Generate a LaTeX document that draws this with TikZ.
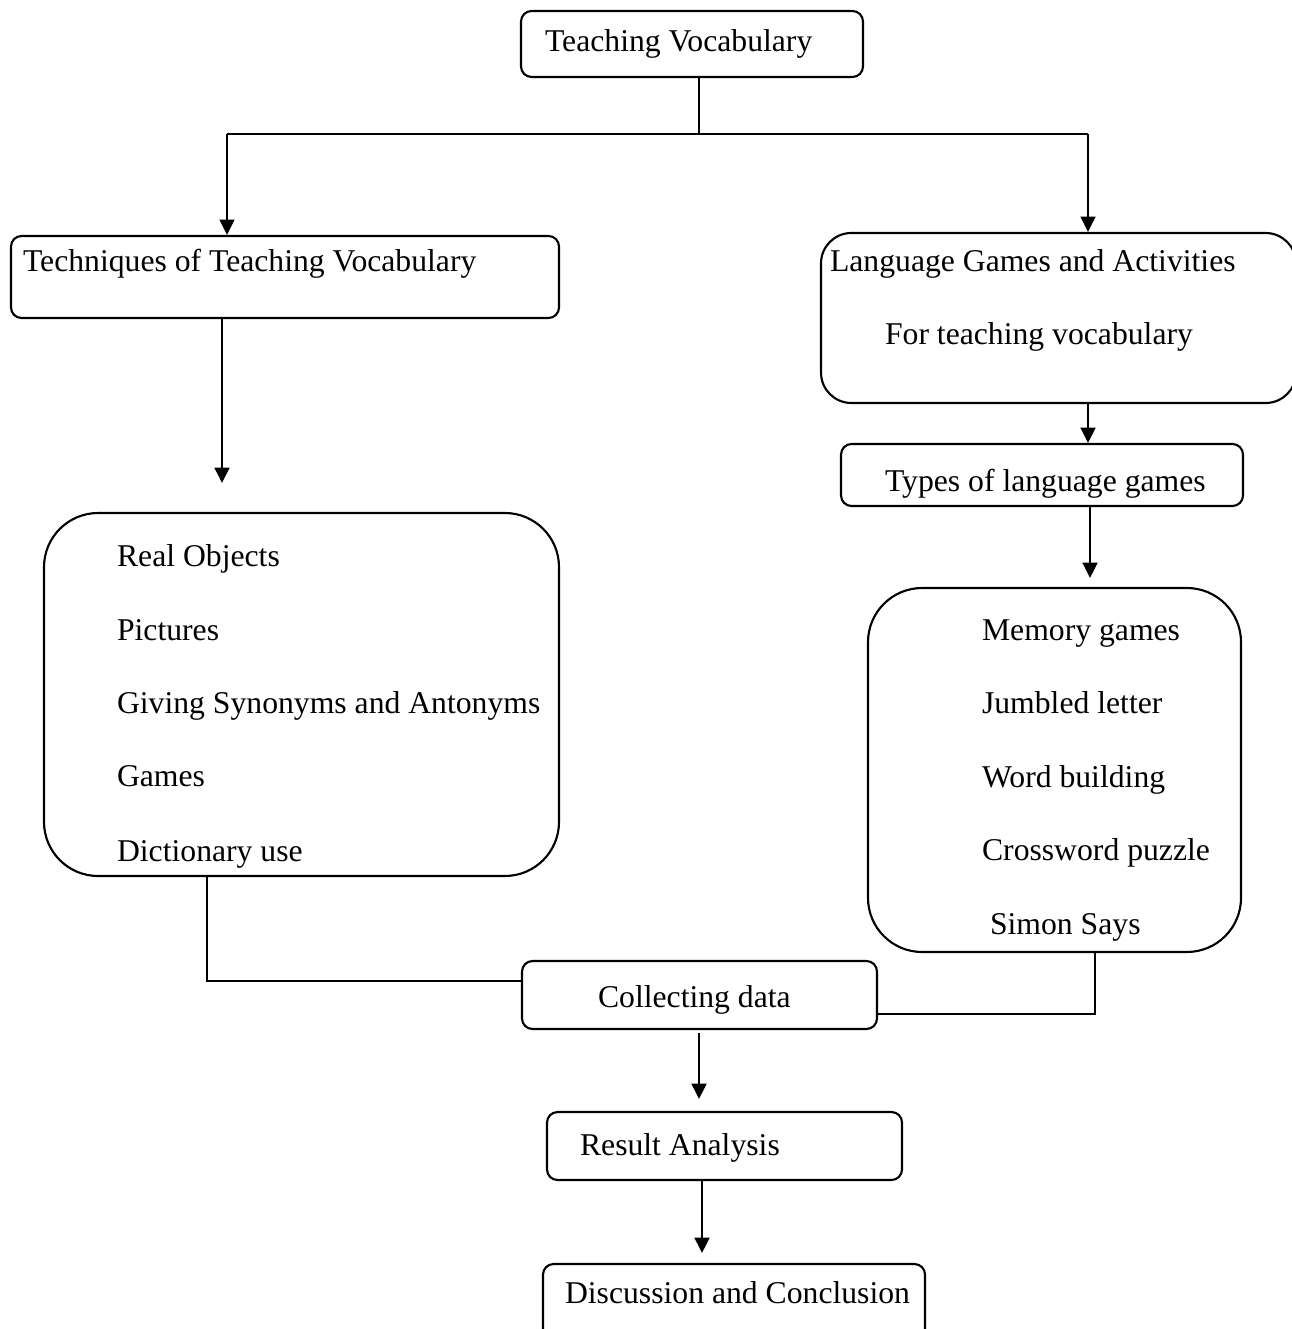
\documentclass[tikz,border=0pt]{standalone}
\usepackage{fontspec}
\setmainfont{Liberation Serif}
\usetikzlibrary{arrows.meta,fit}

\begin{document}
\begin{tikzpicture}[x=0.3788pt, y=-0.3788pt, line width=0.8pt,
		box/.style={draw, inner sep=0pt, rounded corners=4pt},
		roundbox/.style={box, rounded corners=#1},
		txt/.style={anchor=base west, inner sep=0pt, font=\fontsize{12pt}{14pt}\selectfont},
		arr/.style={-{Triangle[length=5.8pt,width=5.6pt]}}]
			\useasboundingbox (0,0) rectangle (1291,1329);
			
			% boxes
			\node[box, fit={(521,11) (863,77)}] (teach) {};
			\node[box, fit={(11,236) (559,318)}] (tech) {};
			\node[roundbox=11.5pt, fit={(821,233) (1296,403)}] (lang) {};
			\node[box, fit={(841,444) (1243,506)}] (types) {};
			\node[roundbox=20.5pt, fit={(44,513) (559,876)}] (techlist) {};
			\node[roundbox=20.5pt, fit={(868,588) (1241,952)}] (gamelist) {};
			\node[box, fit={(522,961) (877,1029)}] (collect) {};
			\node[box, fit={(547,1112) (902,1180)}] (result) {};
			\node[box, fit={(543,1264) (925,1345)}] (discuss) {};
			
			% texts
			\node[txt] (teachtxt) at (544,52) {Teaching Vocabulary};
			\node[txt] (techtxt) at (22,272) {Techniques of Teaching Vocabulary};
			\node[txt] (langtxt) at (829,272) {Language Games and Activities};
			\node[txt] (fortxt) at (884,345) {For teaching vocabulary};
			\node[txt] (typestxt) at (884,492) {Types of language games};
			\foreach \t/\y [count=\k] in {Real Objects/566, Pictures/640, Giving Synonyms and Antonyms/713, Games/786, Dictionary use/861}
				\node[txt] (tech\k) at (116,\y) {\t};
			\foreach \t/\y [count=\k] in {Memory games/640, Jumbled letter/713, Word building/787, Crossword puzzle/860}
				\node[txt] (game\k) at (981,\y) {\t};
			\node[txt] (game5) at (989,934) {Simon Says};
			\node[txt] (collecttxt) at (597,1007) {Collecting data};
			\node[txt] (resulttxt) at (579,1155) {Result Analysis};
			\node[txt] (discusstxt) at (564,1303) {Discussion and Conclusion};
			
			% connectors
			\coordinate (split) at (699,134);
			\coordinate (jl) at (227,134);
			\coordinate (jr) at (1088,134);
			\coordinate (tg) at (222,483);
			\coordinate (lt) at (1088,443);
			\coordinate (tl) at (1090,578);
			\coordinate (gc) at (207,981);
			\coordinate (ec) at (1095,1014);
			\coordinate (cr) at (699,1099);
			\coordinate (rd) at (702,1253);
			
			\draw (teach.south -| split) -- (split);
			\draw (jl) -- (jr);
			\draw[arr] (jl) -- (jl |- tech.north);
			\draw[arr] (jr) -- (jr |- lang.north);
			\draw[arr] (tech.south -| tg) -- (tg);
			\draw[arr] (lang.south -| lt) -- (lt);
			\draw[arr] (types.south -| tl) -- (tl);
			\draw (techlist.south -| gc) -- (gc) -- (collect.west |- gc);
			\draw (gamelist.south -| ec) -- (ec) -- (collect.east |- ec);
			\draw[arr] ([yshift=-1.2pt]collect.south -| cr) -- (cr);
			\draw[arr] (result.south -| rd) -- (rd);
		\end{tikzpicture}
\end{document}
